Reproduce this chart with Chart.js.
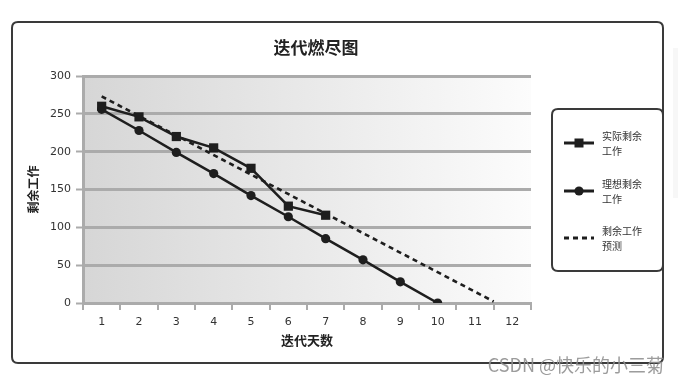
<!DOCTYPE html>
<html>
<head>
<meta charset="utf-8">
<script src="https://cdn.jsdelivr.net/npm/chart.js@4"></script>
<style>
  html, body { margin: 0; padding: 0; background: #fff; }
  #wrap { position: absolute; left: 0; top: 0; width: 678px; height: 382px; }
</style>
</head>
<body>
<div id="wrap"><canvas id="c" width="678" height="382"></canvas></div>
<script>
// ---- data ----
const titleText = '迭代燃尽图';
const xTitle = '迭代天数';
const yTitle = '剩余工作';
const dayLabels = ['1','2','3','4','5','6','7','8','9','10','11','12'];
const actualDays = [1, 2, 3, 4, 5, 6, 7];
const actualRemaining = [260, 246, 220, 205, 178, 128, 116];
const idealDays = [1, 2, 3, 4, 5, 6, 7, 8, 9, 10];
const idealRemaining = [256, 228, 199, 171, 142, 114, 85, 57, 28, 0];
const forecastDays = [1, 11.5];
const forecastRemaining = [273, 2];
const legendLabels = [['实际剩余', '工作'], ['理想剩余', '工作'], ['剩余工作', '预测']];
const watermark = 'CSDN @快乐的小三菊';

const toXY = (xs, ys) => xs.map((x, i) => ({ x: x, y: ys[i] }));
const CJK = '"Noto Sans CJK SC", "DejaVu Sans", sans-serif';
const AX = '"DejaVu Sans", sans-serif';
const LINE = '#1e1e1e';
const GRID = '#ababab';

function roundRect(ctx, x, y, w, h, r) {
  ctx.beginPath();
  ctx.moveTo(x + r, y);
  ctx.lineTo(x + w - r, y);
  ctx.quadraticCurveTo(x + w, y, x + w, y + r);
  ctx.lineTo(x + w, y + h - r);
  ctx.quadraticCurveTo(x + w, y + h, x + w - r, y + h);
  ctx.lineTo(x + r, y + h);
  ctx.quadraticCurveTo(x, y + h, x, y + h - r);
  ctx.lineTo(x, y + r);
  ctx.quadraticCurveTo(x, y, x + r, y);
  ctx.closePath();
}

const decor = {
  id: 'decor',
  beforeDraw(chart) {
    const ctx = chart.ctx;
    const a = chart.chartArea;
    ctx.save();
    // faint strip on right
    ctx.fillStyle = '#f7f7f7';
    ctx.fillRect(673, 48, 5, 150);
    // outer frame
    roundRect(ctx, 12, 22, 651, 341, 6);
    ctx.fillStyle = '#ffffff';
    ctx.fill();
    ctx.lineWidth = 2;
    ctx.strokeStyle = '#3a3a3a';
    ctx.stroke();
    // plot gradient
    const g = ctx.createLinearGradient(a.left, 0, a.right, 0);
    g.addColorStop(0, '#d6d6d6');
    g.addColorStop(1, '#fcfcfc');
    ctx.fillStyle = g;
    ctx.fillRect(a.left, a.top, a.right - a.left, a.bottom - a.top);
    ctx.restore();
  },
  afterDraw(chart) {
    const ctx = chart.ctx;
    ctx.save();
    // title
    ctx.fillStyle = '#222';
    ctx.font = 'bold 17px ' + CJK;
    ctx.textAlign = 'center';
    ctx.textBaseline = 'middle';
    ctx.fillText(titleText, 316, 48);

    // legend box
    roundRect(ctx, 552, 109, 111, 162, 6);
    ctx.fillStyle = '#fff';
    ctx.fill();
    ctx.lineWidth = 2;
    ctx.strokeStyle = '#3a3a3a';
    ctx.stroke();

    const ds = chart.data.datasets;
    const rows = [143, 191, 238];
    ds.forEach((d, i) => {
      const y = rows[i];
      ctx.beginPath();
      ctx.lineWidth = 3;
      ctx.strokeStyle = LINE;
      ctx.setLineDash(d.borderDash || []);
      ctx.moveTo(564, y);
      ctx.lineTo(594, y);
      ctx.stroke();
      ctx.setLineDash([]);
      ctx.fillStyle = LINE;
      if (d.pointStyle === 'rect' && d.pointRadius > 0) {
        ctx.fillRect(579 - 4.5, y - 4.5, 9, 9);
      } else if (d.pointStyle === 'circle' && d.pointRadius > 0) {
        ctx.beginPath();
        ctx.arc(579, y, 4.6, 0, Math.PI * 2);
        ctx.fill();
      }
      ctx.fillStyle = '#333';
      ctx.font = '10px ' + CJK;
      ctx.textAlign = 'left';
      ctx.textBaseline = 'middle';
      const lines = legendLabels[i];
      ctx.fillText(lines[0], 602, y - 7);
      ctx.fillText(lines[1], 602, y + 8);
    });

    // watermark
    ctx.font = '18px ' + CJK;
    ctx.textAlign = 'right';
    ctx.textBaseline = 'middle';
    ctx.fillStyle = 'rgba(145,145,145,0.9)';
    ctx.fillText(watermark, 664, 365);
    ctx.restore();
  }
};

new Chart(document.getElementById('c'), {
  type: 'line',
  data: {
    datasets: [
      {
        label: legendLabels[0].join(''),
        data: toXY(actualDays, actualRemaining),
        borderColor: LINE, backgroundColor: LINE,
        borderWidth: 2.5, pointStyle: 'rect', pointRadius: 6.5,
        pointBorderWidth: 0, tension: 0, order: 1
      },
      {
        label: legendLabels[1].join(''),
        data: toXY(idealDays, idealRemaining),
        borderColor: LINE, backgroundColor: LINE,
        borderWidth: 2.5, pointStyle: 'circle', pointRadius: 4.6,
        pointBorderWidth: 0, tension: 0, order: 2
      },
      {
        label: legendLabels[2].join(''),
        data: toXY(forecastDays, forecastRemaining),
        borderColor: LINE, backgroundColor: LINE,
        borderWidth: 2.6, borderDash: [5, 4], pointRadius: 0,
        pointStyle: 'line', tension: 0, order: 3
      }
    ]
  },
  options: {
    responsive: false,
    animation: false,
    events: [],
    layout: { padding: { left: 20, right: 147, top: 76, bottom: 34 } },
    plugins: {
      legend: { display: false },
      title: { display: false },
      tooltip: { enabled: false }
    },
    scales: {
      x: {
        type: 'linear',
        min: 0.5, max: 12.5,
        afterFit: s => { s.height = 45; },
        afterBuildTicks: s => {
          const t = [];
          for (let v = 0.5; v <= 12.5; v += 0.5) t.push({ value: v });
          s.ticks = t;
        },
        ticks: {
          autoSkip: false, maxRotation: 0,
          padding: 6,
          color: '#333',
          font: { family: AX, size: 11 },
          callback: v => Number.isInteger(v) ? dayLabels[v - 1] : ''
        },
        grid: {
          drawOnChartArea: false,
          tickLength: 7,
          lineWidth: 2,
          color: c => (c.tick && Number.isInteger(c.tick.value)) ? 'rgba(0,0,0,0)' : GRID
        },
        border: { display: true, color: GRID, width: 3 },
        title: {
          display: true, text: xTitle, color: '#222',
          font: { family: CJK, size: 13, weight: 'bold' },
          padding: { top: 0, bottom: 0 }
        }
      },
      y: {
        min: 0, max: 300,
        afterFit: s => { s.width = 63; },
        ticks: {
          stepSize: 50,
          padding: 5,
          color: '#333',
          font: { family: AX, size: 11 }
        },
        grid: {
          color: GRID,
          lineWidth: 3,
          tickLength: 7,
          tickWidth: 2
        },
        border: { display: true, color: GRID, width: 3 },
        title: {
          display: true, text: yTitle, color: '#222',
          font: { family: CJK, size: 12, weight: 'bold' },
          padding: { top: 6, bottom: 0 }
        }
      }
    }
  },
  plugins: [decor]
});
</script>
</body>
</html>
